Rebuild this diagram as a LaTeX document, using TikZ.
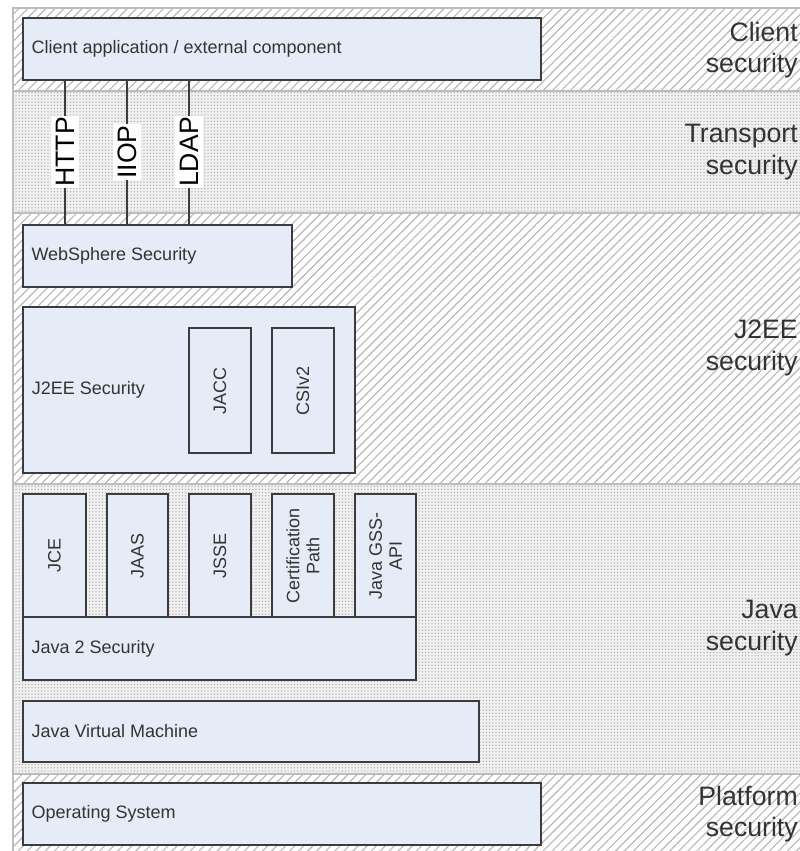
\documentclass[tikz,border=0pt]{standalone}
\usepackage{fontspec}
\setmainfont{Liberation Sans}
\usetikzlibrary{patterns.meta,fit}

\definecolor{boxfill}{HTML}{E6ECF7}
\definecolor{boxline}{HTML}{3C3C3C}
\definecolor{txt}{HTML}{333333}
\definecolor{hatch}{HTML}{B8B8B8}
\definecolor{dotbg}{HTML}{F0F0F0}
\definecolor{dotfg}{HTML}{ADADAD}
\definecolor{edge}{HTML}{BDBDBD}

\tikzset{
  layerbox/.style={draw=boxline, fill=boxfill, line width=1.1pt, inner sep=0pt},
  hatchband/.style={pattern={Lines[angle=45,distance=4.8pt,line width=0.85pt]}, pattern color=hatch},
  dotband/.style={fill=dotbg, postaction={pattern={Dots[distance=2.4pt,radius=0.55pt]}, pattern color=dotfg}},
  boxtext/.style={font=\fontsize{13.5}{16}\selectfont, text=txt, anchor=west, inner sep=0pt},
  vtext/.style={font=\fontsize{13.5}{15}\selectfont, text=txt, rotate=90, align=center, inner sep=0pt},
  layertitle/.style={font=\fontsize{20}{23.5}\selectfont, text=txt, align=right, anchor=east, inner sep=0pt},
  proto/.style={font=\fontsize{20}{20}\selectfont, fill=white, rotate=90, inner xsep=1pt, inner ysep=3.5pt, text=black},
  conn/.style={draw=boxline, line width=1.1pt}
}

\begin{document}
\begin{tikzpicture}[x=0.75pt, y=-0.75pt]
  % page
  \fill[white] (0,0) rectangle (800,851);
  \useasboundingbox (0,0) rectangle (800,851);

  % security layers
  \fill[white] (13,8) rectangle (800,851);
  \fill[hatchband] (13,8) rectangle (800,91);
  \fill[dotband] (13,91) rectangle (800,213);
  \fill[hatchband] (13,213) rectangle (800,484);
  \fill[dotband] (13,484) rectangle (800,774);
  \fill[hatchband] (13,774) rectangle (800,851);
  \draw[edge, line width=1.2pt] (13,851) -- (13,8) -- (800,8);
  \foreach \yy in {91,213,484,774}
    \draw[edge, line width=0.9pt] (13,\yy) -- (800,\yy);

  % layer titles
  \node[layertitle] (tclient) at (798,50) {Client\\security};
  \node[layertitle] (ttransport) at (798,152) {Transport\\security};
  \node[layertitle] (tj2ee) at (798,348) {J2EE\\security};
  \node[layertitle] (tjava) at (798,628) {Java\\security};
  \node[layertitle] (tplatform) at (798,814) {Platform\\security};

  % client
  \node[layerbox, fit={(23,18) (541,80)}] (client) {};
  \node[boxtext] (clienttxt) at ([xshift=6.75pt]client.west) {Client application / external component};

  % WebSphere
  \node[layerbox, fit={(23,225) (292,287)}] (ws) {};
  \node[boxtext] (wstxt) at ([xshift=6.75pt]ws.west) {WebSphere Security};

  % transport protocols
  \coordinate (httpx) at (65,152);
  \coordinate (iiopx) at (127,152);
  \coordinate (ldapx) at (189,152);
  \draw[conn] (client.south -| httpx) -- (ws.north -| httpx);
  \draw[conn] (client.south -| iiopx) -- (ws.north -| iiopx);
  \draw[conn] (client.south -| ldapx) -- (ws.north -| ldapx);
  \node[proto] (http) at (httpx) {HTTP};
  \node[proto] (iiop) at (iiopx) {IIOP};
  \node[proto] (ldap) at (ldapx) {LDAP};

  % J2EE
  \node[layerbox, fit={(23,307) (355,473)}] (j2ee) {};
  \node[boxtext] (j2eetxt) at ([xshift=7pt]j2ee.west) {J2EE Security};
  \node[layerbox, fit={(189,328) (251,453)}] (jacc) {};
  \node[vtext] at (jacc.center) {JACC};
  \node[layerbox, fit={(272,328) (334,453)}] (csiv2) {};
  \node[vtext] at (csiv2.center) {CSIv2};

  % Java 2 security and its providers
  \node[layerbox, fit={(23,494) (86,617)}] (jce) {};
  \node[vtext] at (jce.center) {JCE};
  \node[layerbox, fit={(107,494) (168,617)}] (jaas) {};
  \node[vtext] at (jaas.center) {JAAS};
  \node[layerbox, fit={(189,494) (251,617)}] (jsse) {};
  \node[vtext] at (jsse.center) {JSSE};
  \node[layerbox, fit={(272,494) (334,617)}] (certpath) {};
  \node[vtext] at (certpath.center) {Certification\\Path};
  \node[layerbox, fit={(355,494) (416,617)}] (gss) {};
  \node[vtext] at (gss.center) {Java GSS-\\API};
  \node[layerbox, fit={(23,617) (416,680)}] (j2s) {};
  \node[boxtext] (j2stxt) at ([xshift=6.75pt]j2s.west) {Java 2 Security};

  % JVM
  \node[layerbox, fit={(23,701) (479,762)}] (jvm) {};
  \node[boxtext] (jvmtxt) at ([xshift=6.75pt]jvm.west) {Java Virtual Machine};

  % operating system
  \node[layerbox, fit={(23,783) (541,845)}] (os) {};
  \node[boxtext] (ostxt) at ([xshift=6.75pt]os.west) {Operating System};
\end{tikzpicture}
\end{document}
